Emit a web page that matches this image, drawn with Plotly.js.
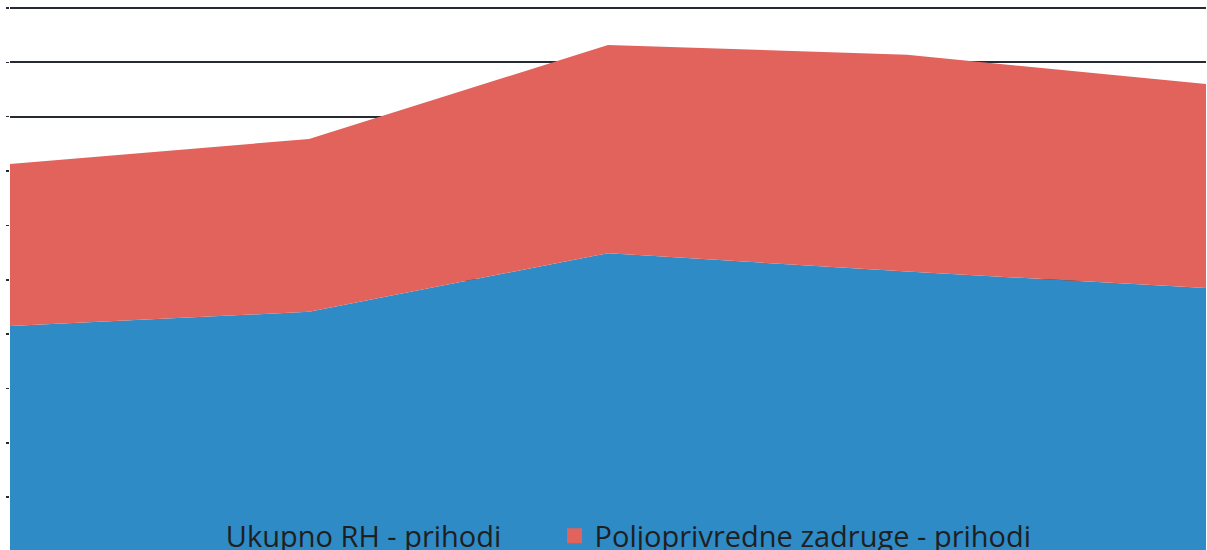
<!DOCTYPE html>
<html>
<head>
<meta charset="utf-8">
<script src="https://cdn.plot.ly/plotly-3.0.1.min.js"></script>
<style>html,body{margin:0;padding:0;background:#fff;}#chart{width:1207px;height:550px;}</style>
</head>
<body>
<div id="chart"></div>
<script>
const categories = ["1", "2", "3", "4", "5"];
const ukupnoRH = [4.15, 4.41, 5.49, 5.15, 4.85];
const zadruge = [2.98, 3.18, 3.83, 3.99, 3.75];
const seriesNames = ["Ukupno RH - prihodi", "Poljoprivredne zadruge - prihodi"];
const colors = ["#2E8BC6", "#E2635C"];
const tickValues = [1, 2, 3, 4, 5, 6, 7, 8, 9, 10];

const traces = [
  {x: categories, y: ukupnoRH, name: seriesNames[0], type: "scatter", mode: "none",
   stackgroup: "one", fillcolor: colors[0], showlegend: false, hoverinfo: "skip"},
  {x: categories, y: zadruge, name: seriesNames[1], type: "scatter", mode: "none",
   stackgroup: "one", fillcolor: colors[1], showlegend: false, hoverinfo: "skip"},
  {x: [null], y: [null], name: seriesNames[0], type: "scatter", mode: "markers",
   legend: "legend", marker: {symbol: "square", size: 15, color: colors[0]}},
  {x: [null], y: [null], name: seriesNames[1], type: "scatter", mode: "markers",
   legend: "legend2", marker: {symbol: "square", size: 15, color: colors[1]}}
];

const legendFont = {family: "'Open Sans', sans-serif", size: 29, color: "#1f1f1f"};
const layout = {
  width: 1207, height: 550,
  margin: {l: 10, r: 1, t: 6, b: 0, pad: 0, autoexpand: false},
  paper_bgcolor: "#ffffff", plot_bgcolor: "#ffffff",
  showlegend: true,
  xaxis: {type: "category", range: [0, 4], showgrid: false, zeroline: false,
          showticklabels: false, ticks: "", showline: false},
  yaxis: {range: [0.028, 10.037], tickvals: tickValues, showticklabels: false,
          showgrid: true, gridcolor: "#262a33", gridwidth: 2, zeroline: false,
          ticks: "outside", ticklen: 3, tickcolor: "#262a33", tickwidth: 1.5,
          showline: false},
  legend: {orientation: "h", x: 0.147, xanchor: "left", y: 0.026, yanchor: "middle",
           bgcolor: "rgba(0,0,0,0)", borderwidth: 0, font: legendFont, itemwidth: 30},
  legend2: {orientation: "h", x: 0.4553, xanchor: "left", y: 0.026, yanchor: "middle",
           bgcolor: "rgba(0,0,0,0)", borderwidth: 0, font: legendFont, itemwidth: 30}
};

Plotly.newPlot("chart", traces, layout, {displayModeBar: false, staticPlot: true});
</script>
</body>
</html>
